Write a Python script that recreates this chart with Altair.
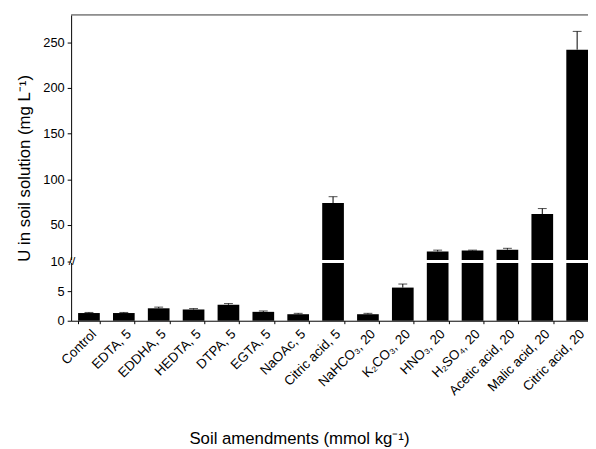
import altair as alt
import pandas as pd

categories = ["Control", "EDTA, 5", "EDDHA, 5", "HEDTA, 5", "DTPA, 5", "EGTA, 5",
              "NaOAc, 5", "Citric acid, 5", "NaHCO₃, 20", "K₂CO₃, 20", "HNO₃, 20",
              "H₂SO₄, 20", "Acetic acid, 20", "Malic acid, 20", "Citric acid, 20"]
values = [1.3, 1.3, 2.1, 1.9, 2.7, 1.5, 1.1, 74, 1.1, 5.6, 21, 22, 23, 62, 242]
errors = [0.1, 0.1, 0.2, 0.15, 0.2, 0.15, 0.15, 7, 0.15, 0.6, 1.5, 0.5, 1.5, 6, 20]
y_ticks = [0, 5, 10, 50, 100, 150, 200, 250]

df = pd.DataFrame({"cat": categories, "val": values, "err": errors})
df["top"] = df["val"] + df["err"]

FONT = "Liberation Sans"
yscale = alt.Scale(domain=[0, 10, 280], range=[310, 250, 0], nice=False, zero=False)
xscale = alt.Scale(paddingInner=0.378, paddingOuter=0.1, align=1)

xenc = alt.X("cat:N", sort=categories, scale=xscale,
             axis=alt.Axis(title="Soil amendments (mmol kg⁻¹)", labelAngle=-45,
                           labelAlign="right", labelBaseline="top",
                           tickBand="extent", tickSize=3, labelPadding=3,
                           labelFontSize=13.5,
                           titleX=231, titleY=124, titleBaseline="alphabetic",
                           titleAnchor="middle", titleAlign="center"))
yenc = alt.Y("val:Q", scale=yscale,
             axis=alt.Axis(values=y_ticks, title="U in soil solution (mg L⁻¹)",
                           tickSize=4, labelPadding=3, titlePadding=9))

base = alt.Chart(df)
bars = base.mark_bar(color="black").encode(x=xenc, y=yenc)
err = base.mark_rule(color="black", strokeWidth=1).encode(
    x=alt.X("cat:N", sort=categories), y=alt.Y("val:Q"), y2="top:Q")
cap = base.mark_tick(color="black", size=9, thickness=1).encode(
    x=alt.X("cat:N", sort=categories), y=alt.Y("top:Q"))

brk = pd.DataFrame({"v": [10]})
gap = alt.Chart(brk).mark_rule(color="white", strokeWidth=3).encode(y=alt.Y("v:Q"))
slash = alt.Chart(brk).mark_text(text="//", fontSize=12, font=FONT, color="black").encode(
    x=alt.value(1), y=alt.Y("v:Q"))
topline = alt.Chart(brk).mark_rule(color="#333333", strokeWidth=1).encode(y=alt.value(0))

chart = alt.layer(bars, err, cap, gap, slash, topline).properties(
    width=524, height=310,
    autosize=alt.AutoSizeParams(type="none"),
    padding={"left": 64, "top": 4, "right": 0, "bottom": 127},
).configure_view(stroke=None).configure_axis(
    domainColor="black", tickColor="black", labelColor="black", titleColor="black",
    labelFont=FONT, titleFont=FONT, labelFontSize=13, titleFontSize=17,
    titleFontWeight="normal", grid=False,
)

chart.save("out.html", embed_options={"renderer": "svg", "actions": False})
